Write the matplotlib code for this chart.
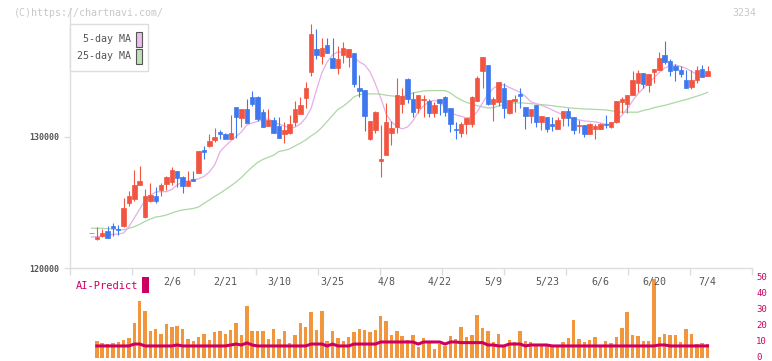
import numpy as np
import matplotlib
matplotlib.use('Agg')
import matplotlib.pyplot as plt
from matplotlib.patches import Rectangle
from matplotlib.transforms import blended_transform_factory, ScaledTranslation

# --- daily candles (prices in yen) ---
opens = [122643, 122235, 122464, 122819, 123200, 122972, 123200, 124978, 125283, 126325,
         123912, 125130, 125486, 125944, 126401, 126579, 127391, 126909, 126274, 126807,
         127264, 128992, 129322, 129754, 130389, 130211, 129855, 132268, 131455, 132090,
         133055, 133004, 131862, 130846, 131252, 130820, 130185, 130262, 131150, 131760,
         132979, 134961, 136688, 136180, 136993, 136002, 135265, 136256, 136053, 136383,
         133716, 133564, 129830, 130516, 128179, 128611, 130313, 130770, 132471, 134402,
         132878, 132217, 132802, 132725, 131837, 132878, 133056, 132217, 130592, 130262,
         130947, 130973, 132750, 135037, 135469, 132497, 132675, 133716, 131837, 132750,
         133259, 132268, 131608, 132446, 131150, 131506, 130947, 130592, 131430, 131963,
         131506, 130846, 130897, 130236, 130617, 130592, 130973, 130744, 131125, 132675,
         132497, 133183, 134123, 134859, 133970, 134961, 135113, 136231, 135773, 135392,
         135088, 134326, 133818, 134326, 135164, 134656]
highs = [122643, 123149, 122946, 123200, 123403, 123277, 125359, 125867, 127468, 127772,
         126020, 126452, 126147, 126452, 127010, 127670, 127391, 127010, 127391, 127391,
         128941, 129322, 130185, 130642, 130516, 130250, 131659, 132268, 132090, 132878,
         133487, 133106, 132090, 132090, 131532, 131481, 131100, 131659, 132725, 133030,
         134199, 138593, 138212, 137500, 137526, 137500, 136916, 137246, 136688, 136383,
         134707, 133564, 131201, 131963, 130897, 132599, 131201, 134504, 133741, 134453,
         133386, 133183, 133183, 132852, 132675, 132878, 133106, 132217, 131151, 131151,
         131430, 133106, 134630, 136078, 135469, 133056, 134148, 134072, 132802, 133157,
         133691, 132268, 132116, 132446, 131582, 131506, 131532, 131481, 131963, 132217,
         131506, 131278, 130897, 131024, 130947, 131024, 131659, 131125, 132725, 133056,
         133183, 135011, 135088, 134859, 134758, 135164, 136434, 137297, 135926, 135545,
         135392, 135088, 135088, 135392, 135469, 135392]
lows = [122643, 122134, 122388, 122311, 122464, 122515, 123149, 124750, 125130, 126325,
        123835, 125004, 124978, 125486, 125944, 126350, 126198, 125740, 126274, 126629,
        127264, 128331, 129246, 129627, 129830, 129830, 129830, 129932, 130770, 131075,
        132370, 131201, 130770, 130846, 130313, 129932, 129550, 130211, 130820, 131760,
        132218, 134656, 135951, 135570, 136357, 135265, 134809, 135596, 135342, 133750,
        133056, 130465, 129754, 130262, 126909, 128611, 129373, 130313, 131837, 132547,
        131481, 131786, 131532, 131532, 131532, 131659, 131582, 130389, 129804, 130008,
        130211, 130770, 132750, 133741, 132420, 131201, 132370, 131455, 131750, 131913,
        132217, 130617, 131075, 130770, 130516, 130338, 130465, 130592, 130846, 130846,
        130211, 130262, 130008, 130211, 129800, 130592, 130643, 130643, 131024, 131837,
        131837, 133183, 133386, 133691, 133437, 134072, 135113, 135545, 134656, 134275,
        134529, 133741, 133640, 134123, 134580, 134656]
closes = [122643, 122388, 122643, 122311, 123073, 122870, 124546, 125486, 126325, 126629,
          125486, 125563, 125105, 126325, 126909, 127468, 126884, 126274, 126629, 126655,
          128915, 128865, 129677, 129956, 130185, 129855, 130313, 131506, 132090, 131075,
          132522, 131379, 130770, 131252, 130313, 129932, 130516, 130973, 132116, 132421,
          133741, 137831, 136231, 136764, 136357, 135265, 135926, 136764, 136688, 133995,
          133513, 131608, 131201, 131913, 128306, 131151, 130668, 133183, 133106, 132852,
          131913, 133183, 132878, 131837, 132421, 132547, 131913, 130948, 130490, 130948,
          131430, 133030, 134504, 136078, 132471, 132878, 134148, 132217, 132802, 132878,
          133132, 131608, 132116, 131150, 131582, 130592, 130846, 131278, 131963, 131455,
          130541, 130922, 130211, 130947, 130820, 130973, 130871, 131125, 132725, 132852,
          133183, 134326, 134859, 134047, 134758, 135164, 136027, 135722, 135037, 135113,
          134783, 133741, 134326, 135088, 134580, 135011]

# --- moving averages as drawn on the chart ---
ma5 = [122360, 122385, 122440, 122515, 122555, 122590, 122665, 123160, 123810, 124495,
       125145, 125525, 125790, 125815, 125815, 125980, 126325, 126555, 126630, 126705,
       126795, 126970, 127315, 127850, 128860, 129295, 129675, 130020, 130365, 130895,
       131050, 131165, 131315, 131355, 131100, 130960, 130820, 130655, 130720, 130975,
       131430, 132155, 133565, 134860, 135695, 136230, 136460, 136400, 136270, 136040,
       135695, 135470, 134935, 134020, 132955, 131735, 131125, 130780, 130590, 130745,
       131200, 131885, 132345, 132685, 132765, 132650, 132190, 131850, 131660, 131545,
       131430, 131505, 131885, 132575, 133220, 133680, 133945, 133945, 133755, 133565,
       133375, 133070, 132670, 132510, 132385, 132230, 132040, 131850, 131660, 131505,
       131355, 131280, 131200, 131165, 131125, 131050, 130950, 130935, 131200, 131620,
       132115, 132725, 133260, 133680, 134095, 134480, 134895, 135240, 135390, 135470,
       135355, 135200, 134975, 134745, 134645, 134590]
ma25 = [123025, 123025, 123025, 122990, 122960, 122930, 122900, 123025, 123150, 123330,
        123545, 123735, 123885, 123940, 124040, 124190, 124320, 124420, 124475, 124535,
        124650, 124915, 125180, 125450, 125690, 125980, 126250, 126555, 126895, 127315,
        127695, 128040, 128270, 128435, 128590, 128875, 128955, 129070, 129295, 129510,
        129755, 130060, 130325, 130705, 131165, 131620, 132080, 132320, 132650, 133030,
        133200, 133260, 133260, 133260, 133235, 133160, 133105, 133070, 133030, 133185,
        133335, 133410, 133485, 133510, 133510, 133510, 133510, 133335, 133030, 132800,
        132610, 132495, 132360, 132270, 132190, 132205, 132345, 132460, 132535, 132575,
        132575, 132550, 132520, 132480, 132445, 132405, 132360, 132305, 132255, 132205,
        132170, 132140, 132115, 132095, 132080, 132060, 132040, 131980, 131900, 131865,
        131865, 131865, 131865, 132000, 132080, 132205, 132305, 132385, 132495, 132610,
        132725, 132825, 132955, 133085, 133220, 133375]

# --- volume and AI-Predict (from the 2nd session onwards) ---
volumes = [10.5, 9.3, 8.6, 9.3, 9.9, 11.2, 12.4, 22.1, 36.0, 29.5,
           16.8, 18.1, 15.0, 21.3, 19.4, 20.0, 18.1, 11.8, 10.5, 13.1,
           15.0, 11.2, 16.2, 16.8, 15.0, 17.5, 22.1, 14.3, 32.6, 16.8,
           16.8, 16.8, 11.8, 18.1, 11.8, 16.8, 9.3, 14.3, 21.9, 19.4,
           28.8, 17.5, 29.5, 10.5, 16.8, 12.4, 10.5, 13.1, 16.2, 18.1,
           17.5, 16.2, 17.5, 26.3, 23.2, 14.3, 16.8, 13.7, 11.2, 14.3,
           6.8, 12.4, 10.5, 5.5, 8.6, 7.4, 13.7, 11.8, 19.6, 13.1,
           14.3, 26.9, 18.7, 16.8, 9.9, 15.0, 7.4, 11.2, 9.9, 16.8,
           10.5, 9.9, 7.4, 7.4, 7.4, 7.4, 7.4, 9.9, 12.4, 23.8,
           11.8, 9.9, 11.2, 13.1, 7.4, 10.5, 9.3, 13.1, 18.7, 28.8,
           14.3, 13.7, 10.5, 10.5, 49.7, 13.1, 15.0, 14.3, 14.3, 9.9,
           18.1, 15.0, 8.6, 9.3, 8.6]
ai_predict = [7.4, 7.4, 7.4, 7.4, 7.4, 7.4, 7.4, 8.6, 8.6, 7.4,
              7.4, 7.4, 7.4, 7.4, 7.4, 8.0, 7.4, 7.4, 7.4, 7.4,
              7.4, 7.4, 7.4, 7.4, 7.4, 8.0, 8.6, 8.0, 9.3, 8.0,
              7.4, 7.4, 7.4, 7.4, 7.4, 7.4, 7.4, 7.4, 7.4, 7.4,
              8.6, 8.6, 8.6, 7.4, 8.6, 7.4, 7.4, 7.4, 8.6, 8.6,
              8.6, 8.6, 8.6, 9.9, 9.9, 9.9, 9.9, 9.9, 9.9, 9.9,
              8.6, 9.9, 9.9, 9.9, 9.9, 8.6, 9.9, 9.9, 9.5, 9.5,
              9.5, 9.5, 9.5, 8.0, 8.0, 7.4, 7.4, 8.6, 8.6, 8.6,
              7.4, 8.0, 8.0, 8.0, 8.0, 7.4, 7.4, 7.4, 7.4, 7.4,
              7.4, 7.4, 7.4, 7.4, 7.4, 7.4, 7.4, 7.4, 7.4, 7.4,
              7.4, 7.4, 7.4, 7.4, 7.4, 8.0, 8.0, 7.4, 7.4, 7.4,
              7.4, 7.4, 7.4, 7.4, 7.4]

date_labels = ['2/6', '2/21', '3/10', '3/25', '4/8', '4/22', '5/9', '5/23', '6/6', '6/20', '7/4']
date_label_days = [15, 25, 35, 45, 55, 65, 75, 85, 95, 105, 115]
price_ticks = [120000, 130000]
vol_ticks = [0, 10, 20, 30, 40, 50]

RED = '#f15440'
BLUE = '#3f78ee'
ORANGE = '#f2963e'
CRIMSON = '#cc0060'
PINK = '#e6aee6'
GREEN = '#acd8a4'
GRID = '#dddddd'
MONO = 'DejaVu Sans Mono'

W, H = 772, 361
fig = plt.figure(figsize=(W / 100, H / 100), dpi=100)


def px_box(x0, y0, x1, y1):
    return [x0 / W, 1 - y1 / H, (x1 - x0) / W, (y1 - y0) / H]


days = np.arange(len(closes))
o = np.array(opens)
c = np.array(closes)
xlim = (-4.01, 123.3)

# ---------- price pane ----------
ax = fig.add_axes(px_box(70, 8, 752, 268))
ax.set_xlim(*xlim)
ax.set_ylim(120000, 139800)

ax.plot(days, ma25, color=GREEN, lw=0.9, zorder=1)
ax.plot(days, ma5, color=PINK, lw=0.9, zorder=1)

col = np.where(c >= o, RED, BLUE)
ax.vlines(days, lows, highs, colors=col, lw=0.8, zorder=2)
ax.bar(days, np.abs(c - o), bottom=np.minimum(o, c), width=0.82,
       color=col, edgecolor=col, linewidth=0.5, zorder=3)

for s in ['top', 'right']:
    ax.spines[s].set_visible(False)
for s in ['left', 'bottom']:
    ax.spines[s].set_color(GRID)
    ax.spines[s].set_linewidth(1)
ax.set_yticks(price_ticks)
ax.set_yticklabels([str(t) for t in price_ticks])
ax.tick_params(axis='y', length=4, width=1, color=GRID, labelcolor='#555555',
               labelsize=6, pad=4)
for lab in ax.get_yticklabels():
    lab.set_family(MONO)
    lab.set_fontweight('bold')
ax.set_xticks(np.linspace(xlim[0], xlim[1], 12))
ax.set_xticklabels([])
ax.tick_params(axis='x', length=5, width=1, color=GRID, direction='out')

# ---------- volume pane ----------
axv = fig.add_axes(px_box(70, 278.3, 752, 357.7))
axv.set_xlim(*xlim)
axv.set_ylim(0, 50)
axv.bar(days[1:], volumes, width=0.64, color=ORANGE, zorder=1)
axv.plot(days[1:], ai_predict, color=CRIMSON, lw=2.2, zorder=2,
         solid_joinstyle='miter')
for s in axv.spines.values():
    s.set_visible(False)
axv.set_xticks([])
axv.yaxis.tick_right()
axv.set_yticks(vol_ticks)
axv.set_yticklabels([str(t) for t in vol_ticks])
axv.tick_params(axis='y', length=0, pad=3, labelcolor=CRIMSON, labelsize=6.5)
lift = ScaledTranslation(0, 1.5 / 100, fig.dpi_scale_trans)
for lab in axv.get_yticklabels():
    lab.set_family(MONO)
    lab.set_transform(lab.get_transform() + lift)
axv.patch.set_alpha(0)

trans = blended_transform_factory(axv.transData, fig.transFigure)
for d, lab in zip(date_label_days, date_labels):
    axv.text(d, 1 - 282 / H, lab, transform=trans, ha='center', va='center',
             fontsize=7.2, family=MONO, color='#555555', clip_on=False)

# ---------- overlay: texts, legend, AI-Predict ----------
ov = fig.add_axes([0, 0, 1, 1])
ov.set_xlim(0, W)
ov.set_ylim(H, 0)
ov.axis('off')

ov.text(14, 12.5, '(C)https://chartnavi.com/', fontsize=7.2, family=MONO,
        color='#c8c8c8', ha='left', va='center')
ov.text(756, 12.5, '3234', fontsize=7.2, family=MONO, color='#c8c8c8',
        ha='right', va='center')

ov.add_patch(Rectangle((70, 24), 78, 47, facecolor='white', edgecolor=GRID, lw=1))
ov.text(131, 39.5, '5-day MA', fontsize=7.2, family=MONO, color='#555555',
        ha='right', va='center')
ov.text(131, 56, '25-day MA', fontsize=7.2, family=MONO, color='#555555',
        ha='right', va='center')
ov.add_patch(Rectangle((136.3, 31.5), 6, 15, facecolor='#ecbcec', edgecolor='#555555', lw=0.8))
ov.add_patch(Rectangle((136.3, 48.5), 6, 15, facecolor='#bfe0b6', edgecolor='#555555', lw=0.8))

ov.text(75.5, 286, 'AI-Predict', fontsize=7.5, family=MONO, color=CRIMSON,
        ha='left', va='center')
ov.add_patch(Rectangle((142, 277), 7, 16, facecolor=CRIMSON, edgecolor='none'))

fig.savefig('out.png', dpi=100)
